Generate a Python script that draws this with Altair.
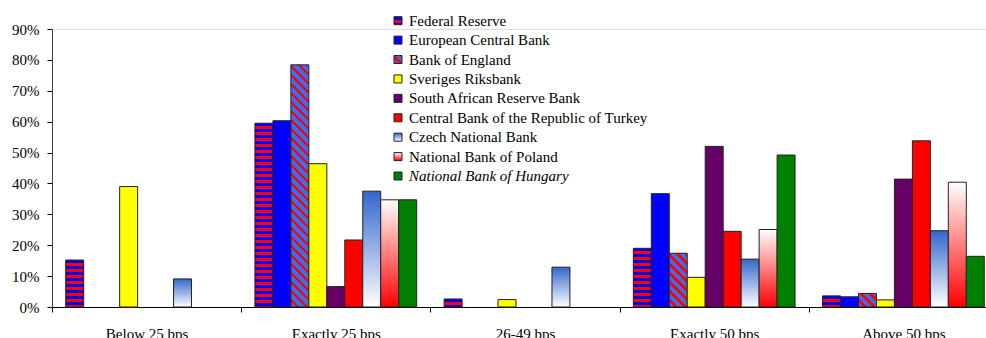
import altair as alt

# ---------------- data ----------------
categories = ["Below 25 bps", "Exactly 25 bps", "26-49 bps", "Exactly 50 bps", "Above 50 bps"]
series = [
    "Federal Reserve",
    "European Central Bank",
    "Bank of England",
    "Sveriges Riksbank",
    "South African Reserve Bank",
    "Central Bank of the Republic of Turkey",
    "Czech National Bank",
    "National Bank of Poland",
    "National Bank of Hungary",
]
fed = [15.2, 59.5, 2.6, 19.0, 3.6]
ecb = [0, 60.3, 0, 36.7, 3.3]
boe = [0, 78.4, 0, 17.4, 4.4]
riksbank = [39.0, 46.4, 2.4, 9.6, 2.3]
sarb = [0, 6.6, 0, 52.0, 41.4]
turkey = [0, 21.7, 0, 24.5, 53.8]
czech = [9.1, 37.5, 12.9, 15.5, 24.7]
poland = [0, 34.7, 0, 25.1, 40.4]
hungary = [0, 34.7, 0, 49.2, 16.4]
all_values = [fed, ecb, boe, riksbank, sarb, turkey, czech, poland, hungary]
y_ticks = [0, 10, 20, 30, 40, 50, 60, 70, 80, 90]

# ---------------- styling ----------------
PLOT_W = 934
X_RANGE = 946
PLOT_H = 278
Y_MAX = 90
BAR_W = 18
SWATCH = 8
FONT = "Liberation Serif"

STYLE = {
    "Federal Reserve": ("hstripe", "#0000FF", "#FF0000"),
    "European Central Bank": ("solid", "#0000FF"),
    "Bank of England": ("dstripe", "#3A6EF0", "#FF0000"),
    "Sveriges Riksbank": ("solid", "#FFFF00"),
    "South African Reserve Bank": ("solid", "#660066"),
    "Central Bank of the Republic of Turkey": ("solid", "#FF0000"),
    "Czech National Bank": ("vgrad", "#3366CC", "#FFFFFF"),
    "National Bank of Poland": ("vgrad", "#FFFFFF", "#FF0000"),
    "National Bank of Hungary": ("solid", "#008000"),
}


def stripe_stops(colors, widths, length):
    stops, pos, i = [], 0.0, 0
    while pos < length - 1e-9:
        c = colors[i % 2]
        end = min(pos + widths[i % 2], length)
        stops.append({"offset": pos / length, "color": c})
        stops.append({"offset": end / length, "color": c})
        pos = end
        i += 1
    return stops


def make_fill(name, h, w):
    st = STYLE[name]
    kind = st[0]
    if kind == "solid":
        return st[1]
    if kind == "vgrad":
        return {"gradient": "linear", "x1": 1, "y1": 0, "x2": 1, "y2": 1,
                "stops": [{"offset": 0, "color": st[1]}, {"offset": 1, "color": st[2]}]}
    if kind == "hstripe":
        return {"gradient": "linear", "x1": 1, "y1": 0, "x2": 1, "y2": 1,
                "stops": stripe_stops([st[1], st[2]], [3.0, 3.0], max(h, 1.0))}
    # diagonal stripes running down-right at 45 degrees in pixel space
    h = max(h, 1.0)
    r = h / w
    k = (w + h) / (w * (1 + r * r))
    return {"gradient": "linear", "x1": 0, "y1": 1, "x2": k, "y2": 1 - k * r,
            "stops": stripe_stops([st[1], st[2]], [5.5, 3.5], w + h)}


bar_records = []
for s, vals in zip(series, all_values):
    for c, v in zip(categories, vals):
        if v <= 0:
            continue
        h = v / Y_MAX * PLOT_H
        bar_records.append({"category": c, "series": s, "value": v, "fill": make_fill(s, h, BAR_W)})

legend_records = [{"series": s, "fill": make_fill(s, SWATCH, SWATCH)} for s in series]

# ---------------- chart ----------------
bars = alt.Chart(alt.Data(values=bar_records)).mark_bar(
    stroke="#222222", strokeWidth=1
).encode(
    x=alt.X(
        "category:N",
        sort=categories,
        scale=alt.Scale(domain=categories, range=[0, X_RANGE], paddingInner=0, paddingOuter=0),
        axis=alt.Axis(
            title=None, tickBand="extent",
            tickSize=5, labelPadding=14, labelAngle=0, labelFont=FONT, labelFontSize=15,
            labelColor="black", domainColor="black", tickColor="black", grid=False,
        ),
    ),
    xOffset=alt.XOffset(
        "series:N", sort=series,
        scale=alt.Scale(domain=series, paddingInner=0, paddingOuter=0.764),
    ),
    y=alt.Y(
        "value:Q",
        scale=alt.Scale(domain=[0, Y_MAX], nice=False),
        axis=alt.Axis(
            title=None, values=y_ticks, labelExpr="datum.value + '%'",
            tickSize=5, labelPadding=8, labelFont=FONT, labelFontSize=15,
            labelColor="black", domainColor="#444444", tickColor="black", grid=False,
        ),
    ),
    fill=alt.Fill("fill:N", scale=None, legend=None),
)

leg_y = alt.Y(
    "series:N", sort=series,
    scale=alt.Scale(domain=series, range=[-8.3, 147], padding=0),
    axis=None,
)

legend_base = alt.Chart(alt.Data(values=legend_records))

swatches = legend_base.mark_square(
    size=SWATCH * SWATCH, stroke="#222222", strokeWidth=1, opacity=1
).encode(
    x=alt.value(346),
    y=leg_y,
    fill=alt.Fill("fill:N", scale=None, legend=None),
)

labels_normal = legend_base.transform_filter(
    alt.datum.series != "National Bank of Hungary"
).mark_text(
    align="left", baseline="middle", font=FONT, fontSize=15, color="black"
).encode(x=alt.value(357), y=leg_y, text="series:N")

labels_italic = legend_base.transform_filter(
    alt.datum.series == "National Bank of Hungary"
).mark_text(
    align="left", baseline="middle", font=FONT, fontSize=15, color="black", fontStyle="italic"
).encode(x=alt.value(357), y=leg_y, text="series:N")

chart = alt.layer(bars, swatches, labels_normal, labels_italic).resolve_scale(
    y="independent"
).properties(
    width=PLOT_W,
    height=PLOT_H,
    autosize=alt.AutoSizeParams(type="none"),
    padding={"left": 52, "top": 29, "right": 0, "bottom": 31},
).configure_view(stroke=None).configure(background="white")

chart.save("out.html", embed_options={"renderer": "svg", "actions": False})
